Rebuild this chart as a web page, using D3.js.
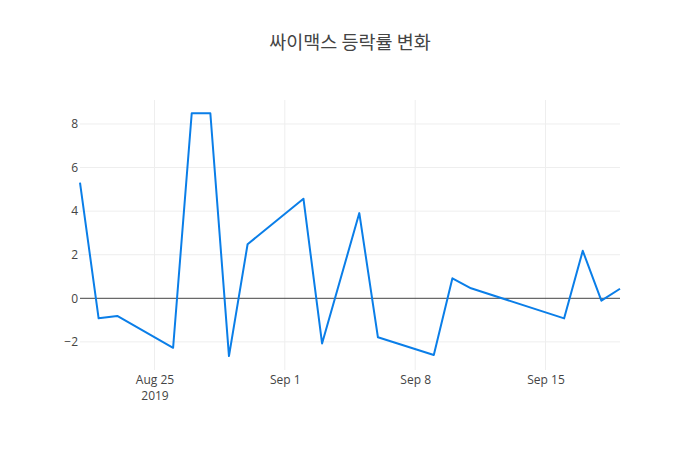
<!DOCTYPE html>
<html><head><meta charset="utf-8">
<script src="https://cdn.jsdelivr.net/npm/d3@7"></script>
<style>body{margin:0;background:#fff}svg{display:block}</style>
</head><body><svg id="c" width="700" height="450"></svg>
<script>
const title = "싸이맥스 등락률 변화";
const dates = ["2019-08-21","2019-08-22","2019-08-23","2019-08-26","2019-08-27","2019-08-28","2019-08-29","2019-08-30",
  "2019-09-02","2019-09-03","2019-09-05","2019-09-06","2019-09-09","2019-09-10","2019-09-11",
  "2019-09-16","2019-09-17","2019-09-18","2019-09-19"];
const values = [5.31,-0.92,-0.81,-2.27,8.49,8.49,-2.65,2.48,4.57,-2.07,3.91,-1.79,-2.60,0.92,0.46,-0.92,2.18,-0.11,0.44];
const xTicks = ["2019-08-25","2019-09-01","2019-09-08","2019-09-15"];
const yTicks = [-2,0,2,4,6,8];

const parse = d3.timeParse("%Y-%m-%d");
const data = dates.map((d,i)=>({date:parse(d), v:values[i]}));
const svg = d3.select("#c");
const L=80,R=620,T=100,B=370;
const x = d3.scaleTime().domain(d3.extent(data,d=>d.date)).range([L,R]);
const y = d3.scaleLinear().domain([-3.29,9.10]).range([B,T]);
const font = "'Open Sans', verdana, arial, sans-serif";

// grid
const g = svg.append("g");
g.selectAll(".gx").data(xTicks.map(parse)).enter().append("line")
  .attr("x1",d=>x(d)).attr("x2",d=>x(d)).attr("y1",T).attr("y2",B)
  .attr("stroke","#eee").attr("stroke-width",1);
g.selectAll(".gy").data(yTicks.filter(t=>t!==0)).enter().append("line")
  .attr("x1",L).attr("x2",R).attr("y1",d=>y(d)).attr("y2",d=>y(d))
  .attr("stroke","#eee").attr("stroke-width",1);
// zero line
svg.append("line").attr("x1",L).attr("x2",R).attr("y1",y(0)).attr("y2",y(0))
  .attr("stroke","#444").attr("stroke-width",1);

// axes
const fmt = d3.timeFormat("%b %-d");
const xa = svg.append("g").attr("transform",`translate(0,${B})`)
  .call(d3.axisBottom(x).tickValues(xTicks.map(parse)).tickSize(0).tickPadding(0).tickFormat(()=>""));
xa.select(".domain").remove();
xa.selectAll(".tick").each(function(d,i){
  const t = d3.select(this).select("text").text(null)
    .attr("font-family",font).attr("font-size",12).attr("fill","#444").attr("dy",null).attr("y",null);
  t.append("tspan").attr("x",0).attr("y",14).text(fmt(d));
  if(i===0) t.append("tspan").attr("x",0).attr("y",30).text(d3.timeFormat("%Y")(d));
});
const ya = svg.append("g").attr("transform",`translate(${L},0)`)
  .call(d3.axisLeft(y).tickValues(yTicks).tickSize(0).tickPadding(0).tickFormat(d=>d<0?"\u2212"+Math.abs(d):d));
ya.select(".domain").remove();
ya.selectAll("text").attr("font-family",font).attr("font-size",12).attr("fill","#444").attr("x",-2);

// line
svg.append("path").datum(data)
  .attr("d",d3.line().x(d=>x(d.date)).y(d=>y(d.v)))
  .attr("fill","none").attr("stroke","#0a7ee8").attr("stroke-width",2).attr("stroke-linejoin","round");

svg.append("text").attr("x",350).attr("y",49).attr("text-anchor","middle")
  .attr("font-family","'Noto Sans CJK KR', 'Open Sans', sans-serif").attr("font-size",18.5).attr("fill","#444")
  .text(title);
</script></body></html>
